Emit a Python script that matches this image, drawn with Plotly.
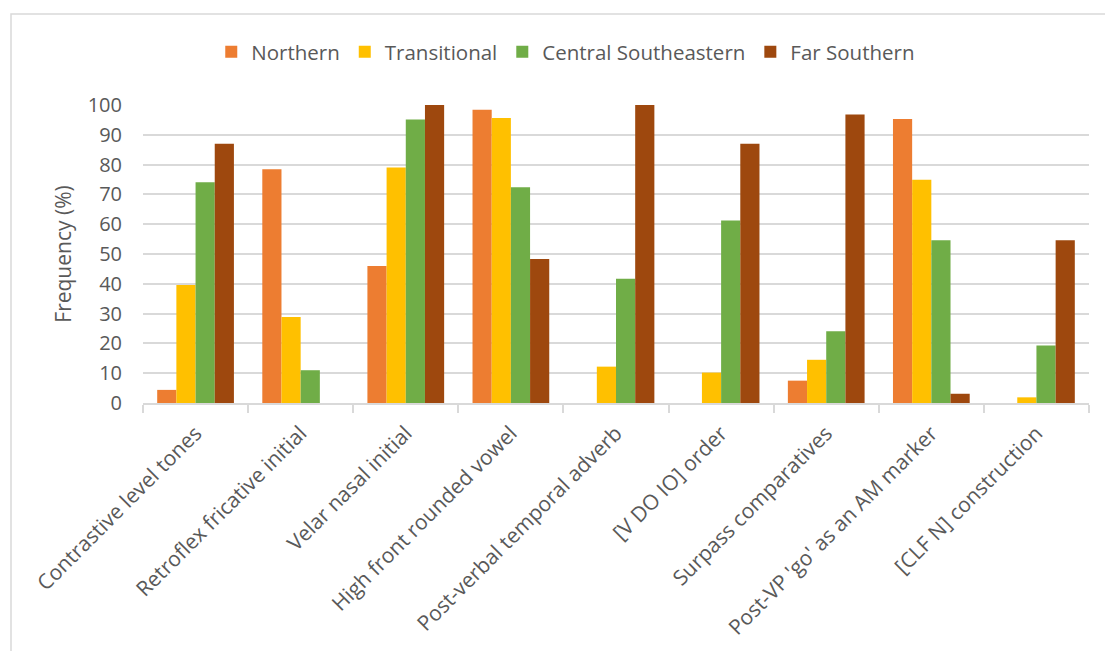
import plotly.graph_objects as go

categories = [
    "Contrastive level tones",
    "Retroflex fricative initial",
    "Velar nasal initial",
    "High front rounded vowel",
    "Post-verbal temporal adverb",
    "[V DO IO] order",
    "Surpass comparatives",
    "Post-VP 'go' as an AM marker",
    "[CLF N] construction",
]
northern = [4.4, 78.4, 46.0, 98.4, 0, 0, 7.5, 95.3, 0]
transitional = [39.6, 28.9, 79.0, 95.6, 12.2, 10.2, 14.5, 74.9, 1.9]
central_se = [74.1, 11.0, 95.1, 72.4, 41.7, 61.2, 24.1, 54.6, 19.3]
far_southern = [87.0, 0, 100, 48.3, 100, 87.0, 96.8, 3.1, 54.6]

series_names = ["Northern", "Transitional", "Central Southeastern", "Far Southern"]
series_values = [northern, transitional, central_se, far_southern]
colors = ["#ED7D31", "#FFC000", "#70AD47", "#9E480E"]

W, H = 1105, 651
ML, MR, MT, MB = 143, 16, 105, 248
FONT = "Open Sans"
TXT = "#595959"

fig = go.Figure()
for name, vals, col in zip(series_names, series_values, colors):
    fig.add_trace(go.Bar(
        x=categories, y=vals, name=name,
        marker=dict(color=col, line=dict(width=0)),
    ))

pw = W - ML - MR
ph = H - MT - MB
def px_x(p):
    return (p - ML) / pw
def px_y(p):
    return (H - MB - p) / ph

fig.add_shape(type="rect", xref="paper", yref="paper",
              x0=px_x(11), x1=px_x(W + 10), y0=px_y(H + 10), y1=px_y(14),
              line=dict(color="#D9D9D9", width=1.5), fillcolor="rgba(0,0,0,0)",
              layer="below")

fig.update_layout(
    width=W, height=H,
    margin=dict(l=ML, r=MR, t=MT, b=MB, autoexpand=False),
    paper_bgcolor="white", plot_bgcolor="white",
    barmode="group", bargap=0.27, bargroupgap=0,
    font=dict(family=FONT, size=20, color=TXT),
    legend=dict(
        orientation="h", xref="container", yref="container",
        x=0.512, xanchor="center", y=1 - 52 / H, yanchor="middle",
        font=dict(family=FONT, size=20.5, color=TXT),
        itemwidth=30, itemclick=False,
    ),
    xaxis=dict(
        type="category", tickangle=-45,
        tickfont=dict(family=FONT, size=21, color=TXT),
        showline=True, linecolor="#D9D9D9", linewidth=1.5,
        ticks="outside", ticklen=8, tickcolor="#D9D9D9", tickwidth=1.5,
        tickson="boundaries", showgrid=False,
        ticklabelstandoff=8,
    ),
    yaxis=dict(
        range=[0, 100], dtick=10,
        tickfont=dict(family=FONT, size=20, color=TXT),
        showgrid=True, gridcolor="#D9D9D9", gridwidth=1.5,
        zeroline=False, showline=False, ticks="",
        ticklabelstandoff=20,
        title=dict(text="Frequency (%)", font=dict(family=FONT, size=21, color=TXT), standoff=10),
    ),
)

fig.write_html("out.html")
